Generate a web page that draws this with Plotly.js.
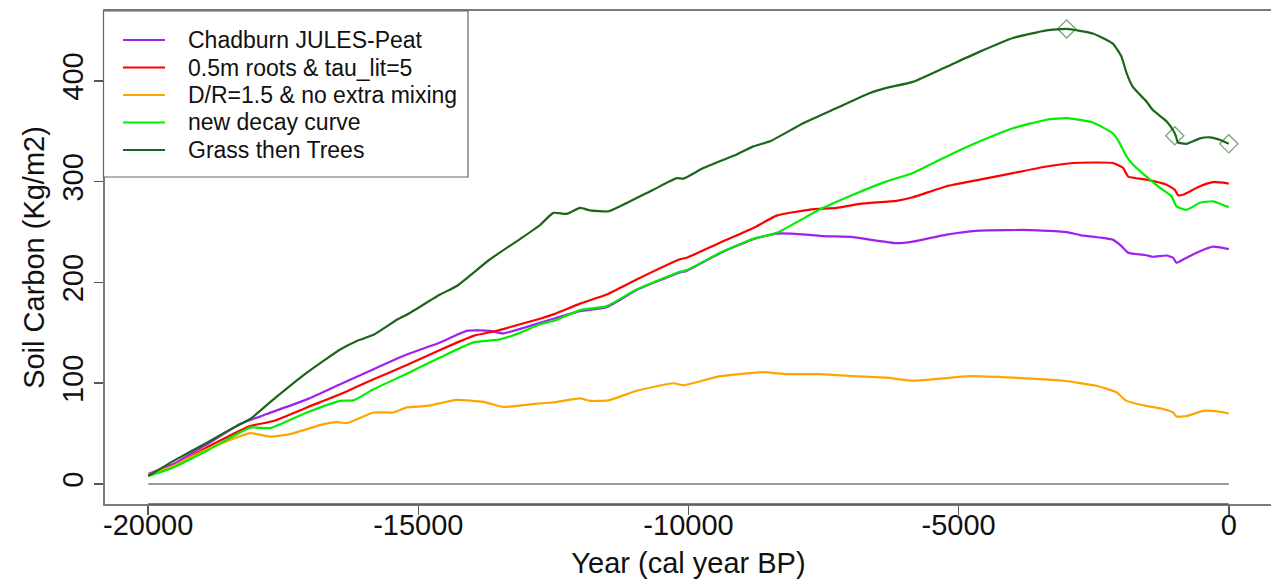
<!DOCTYPE html>
<html>
<head>
<meta charset="utf-8">
<script src="https://cdn.plot.ly/plotly-3.0.1.min.js"></script>
<style>
html, body { margin: 0; padding: 0; overflow: hidden; background: #fff; }
#chart { width: 1274px; height: 582px; }
</style>
</head>
<body>
<div id="chart"></div>
<script>
// ---- Data ----
var seriesNames = ["Chadburn JULES-Peat", "0.5m roots & tau_lit=5", "D/R=1.5 & no extra mixing", "new decay curve", "Grass then Trees"];
var seriesColors = ["#A020F0", "#FF0000", "#FFA500", "#00EE00", "#1b661b"];

var yearsChadburn = [-20000,-19532,-18914,-18298,-17804,-17063,-16447,-15830,-15214,-14598,-14104,-13673,-13426,-12747,-12502,-12007,-11514,-10959,-10157,-10033,-9417,-8800,-8368,-7815,-7507,-6955,-6642,-6148,-5847,-5223,-4607,-3682,-3003,-2757,-2146,-1986,-1862,-1524,-1405,-1153,-1030,-968,-784,-534,-290,-42,0];
var carbonChadburn = [10,20,39.5,59.5,69.5,84,99,114,128.5,140.5,152,152,149.5,160,164,171.5,175.5,192.5,210,211.5,229,243,248.5,247.5,246,245,242.5,239,240.5,247.5,251.5,252,250,247,242.5,236,229.5,227,225.5,226.7,224.5,219.5,224.5,231,235.5,233.5,233];

var yearsRoots = [-20000,-19532,-18914,-18113,-17681,-17063,-16447,-15830,-15214,-14598,-13981,-13549,-13118,-12747,-12502,-12007,-11514,-10959,-10157,-10033,-9417,-8800,-8368,-7752,-7259,-6827,-6148,-5847,-5223,-4607,-3994,-3373,-2886,-2146,-1955,-1862,-1524,-1153,-1000,-938,-850,-534,-290,-42,0];
var carbonRoots = [9,17.5,36.5,57.5,62.5,76,89,104,118,133,147,152,158.5,164,168.3,179,188,203,223,224.5,239.5,254,266.3,272.3,274,278,281,284.5,295.5,302,308.5,315,318.5,318.5,313.5,305,302,297,292,286.5,287,295.5,299.5,298.5,298];

var yearsMixing = [-20000,-19532,-18914,-18113,-17743,-17373,-16756,-16509,-16324,-15830,-15460,-15214,-14844,-14289,-13796,-13426,-13179,-12747,-12502,-12007,-11822,-11483,-10959,-10280,-10095,-9417,-8615,-8183,-7572,-6955,-6334,-5847,-4793,-3994,-3068,-2448,-2077,-1893,-1524,-1215,-1030,-968,-784,-476,-290,-42,0];
var carbonMixing = [9,18,34.5,50.5,47,49.5,59.5,61.5,60.5,71,71,76,77.5,83.5,81.5,76.5,77.5,80,81,85,82.5,83,92.5,100,98,107,111,109,109,107,105.5,102.5,107,105.5,102.5,97.5,91,82.5,77.5,74.5,71,67,67.5,72.5,72.5,70.5,70];

var yearsDecay = [-20000,-19532,-18914,-18113,-17743,-17063,-16447,-16200,-15830,-15214,-14598,-13981,-13488,-13118,-12747,-12502,-12007,-11514,-10959,-10157,-10033,-9417,-8800,-8368,-7572,-6955,-6334,-5847,-5223,-4607,-3994,-3373,-3003,-2516,-2146,-2017,-1893,-1776,-1524,-1277,-1061,-968,-784,-534,-290,-42,0];
var carbonDecay = [8,16.5,33,56,55.5,71,82.5,83,94,109.5,125.5,140.5,143.5,150,158.5,161.7,172.6,176.5,193,210.6,212.2,229.4,243.3,249.2,272.3,287,300.3,308.6,325,340,353,361.4,363,358.7,348,338,325,317,305,294,285.5,275.5,272,279,280.5,275.5,275];

var yearsTrees = [-20000,-19532,-18914,-18420,-18113,-17681,-17063,-16447,-16139,-15830,-15398,-15214,-14598,-14289,-13673,-13118,-12747,-12502,-12255,-12007,-11822,-11483,-11267,-10650,-10218,-10095,-9725,-9108,-8800,-8492,-7876,-7259,-6642,-6334,-5847,-5223,-4607,-3994,-3373,-3000,-2516,-2146,-1986,-1893,-1776,-1524,-1405,-1153,-1030,-980,-942,-784,-534,-350,-166,0];
var carbonTrees = [8,23,41,56,64.5,84,110.5,133.5,142,148,163,168,188,196.5,223,243,257,269,268,274,271.5,270.5,275.5,292,303.5,303,313.5,327,335,340,358,373,388,393,399,414,429,442.5,450,451.5,447,437,424,408,394,379.5,371,360,351,345.5,339,337.5,343,344,341.5,337.5];

var markerYears = [-3000, -1000, 0];
var markerCarbon = [451.5, 345.5, 337.5];

var zeroYears = [-20000, 0];
var zeroCarbon = [0, 0];

var xTickVals = [-20000, -15000, -10000, -5000, 0];
var xTickText = ["-20000", "-15000", "-10000", "-5000", "0"];
var yTickVals = [0, 100, 200, 300, 400];
var yTickText = ["0", "100", "200", "300", "400"];

// ---- Build traces ----
var FONT = "Liberation Sans, Arial, Helvetica, sans-serif";
var xs = [yearsChadburn, yearsRoots, yearsMixing, yearsDecay, yearsTrees];
var ys = [carbonChadburn, carbonRoots, carbonMixing, carbonDecay, carbonTrees];

var traces = [{
  x: zeroYears, y: zeroCarbon, mode: "lines", showlegend: false, hoverinfo: "skip",
  line: {color: "#7a7a7a", width: 1.6}
}];
for (var i = 0; i < seriesNames.length; i++) {
  traces.push({
    x: xs[i], y: ys[i], name: seriesNames[i], mode: "lines", showlegend: false,
    line: {color: seriesColors[i], width: 2.2, shape: "spline", smoothing: 0.45}
  });
}
traces.push({
  x: markerYears, y: markerCarbon, mode: "markers", showlegend: false,
  marker: {symbol: "diamond-open", size: 14, color: "rgba(27,102,27,0.6)", line: {width: 1.3, color: "rgba(27,102,27,0.6)"}}
});

// ---- Legend drawn as a box in paper space ----
var plotL = 105, plotW = 1167, plotT = 11, plotH = 493;
function px2x(px) { return (px - plotL) / plotW; }
function py2y(py) { return (plotT + plotH - py) / plotH; }

var shapes = [{
  type: "rect", xref: "paper", yref: "paper", layer: "above",
  x0: px2x(103.5), x1: px2x(468), y0: py2y(177), y1: py2y(11),
  line: {color: "#666", width: 1.2}, fillcolor: "#fff"
}, {
  type: "line", xref: "x", yref: "paper", layer: "above",
  x0: -20000, x1: 0, y0: 0, y1: 0, line: {color: "#555", width: 1.6}
}];
var annotations = [];
for (var k = 0; k < seriesNames.length; k++) {
  var rowY = 40 + k * 27.5;
  shapes.push({
    type: "line", xref: "paper", yref: "paper", layer: "above",
    x0: px2x(123), x1: px2x(165), y0: py2y(rowY), y1: py2y(rowY),
    line: {color: seriesColors[k], width: 2.2}
  });
  annotations.push({
    xref: "paper", yref: "paper", x: px2x(186), y: py2y(rowY),
    xanchor: "left", yanchor: "middle", showarrow: false,
    text: seriesNames[k], font: {family: FONT, size: 23, color: "#111"}
  });
}

var layout = {
  width: 1274, height: 582,
  margin: {l: plotL, r: 1274 - plotL - plotW, t: plotT, b: 582 - plotT - plotH, pad: 0},
  paper_bgcolor: "#fff", plot_bgcolor: "#fff",
  showlegend: false,
  font: {family: FONT, color: "#111"},
  xaxis: {
    range: [-20800, 800], tickvals: xTickVals, ticktext: xTickText,
    ticks: "outside", ticklen: 9, tickwidth: 1.5, tickcolor: "#555",
    ticklabelstandoff: -14,
    showline: true, mirror: true, linecolor: "#7a7a7a", linewidth: 1.6,
    showgrid: false, zeroline: false,
    tickfont: {family: FONT, size: 29, color: "#111"},
    title: {text: "Year (cal year BP)", font: {family: FONT, size: 29, color: "#111"}, standoff: 12}
  },
  yaxis: {
    range: [-19.8, 469.3], tickvals: yTickVals, ticktext: yTickText, tickangle: -90,
    ticks: "outside", ticklen: 9, tickwidth: 1.5, tickcolor: "#555",
    showline: true, mirror: true, linecolor: "#7a7a7a", linewidth: 1.6,
    showgrid: false, zeroline: false,
    tickfont: {family: FONT, size: 29, color: "#111"},
    title: {text: "Soil Carbon (Kg/m2)", font: {family: FONT, size: 29, color: "#111"}, standoff: 3}
  },
  shapes: shapes,
  annotations: annotations
};

Plotly.newPlot("chart", traces, layout, {displayModeBar: false, staticPlot: true});
</script>
</body>
</html>
